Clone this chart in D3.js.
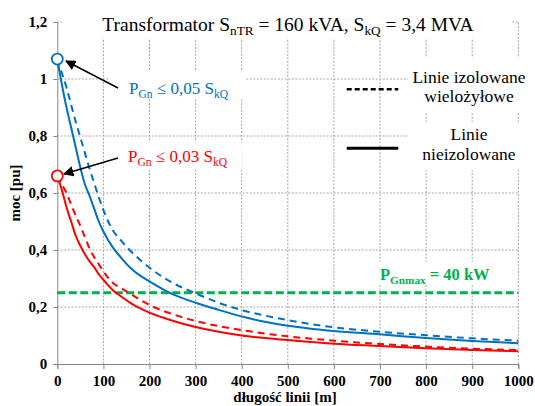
<!DOCTYPE html>
<html>
<head>
<meta charset="utf-8">
<script src="https://cdn.jsdelivr.net/npm/d3@7"></script>
<style>
  body { margin: 0; background: #fff; }
  svg { display: block; }
  svg text { font-family: "Liberation Serif", "DejaVu Serif", "Times New Roman", serif; }
</style>
</head>
<body>
<svg id="chart" width="535" height="406"></svg>
<script>
// line length [m]
const lengths = [0, 10, 20, 30, 40, 50, 60, 70, 80, 90, 100, 120, 140, 160, 180, 200,
                 250, 300, 350, 400, 450, 500, 550, 600, 700, 800, 900, 1000];

// P_Gn <= 0,05 S_kQ
const blueSolid  = [1.07, 0.98, 0.90, 0.83, 0.76, 0.69, 0.63, 0.59, 0.545, 0.50, 0.465, 0.41, 0.37, 0.335, 0.31, 0.29,
                    0.245, 0.215, 0.19, 0.167, 0.148, 0.134, 0.124, 0.116, 0.104, 0.091, 0.081, 0.073];
const blueDashed = [1.07, 1.02, 0.97, 0.91, 0.85, 0.795, 0.74, 0.685, 0.635, 0.585, 0.54, 0.47, 0.43, 0.395, 0.365, 0.338,
                    0.285, 0.248, 0.215, 0.189, 0.17, 0.154, 0.14, 0.129, 0.113, 0.101, 0.09, 0.082];

// P_Gn <= 0,03 S_kQ
const redSolid   = [0.66, 0.61, 0.55, 0.50, 0.45, 0.415, 0.385, 0.36, 0.34, 0.315, 0.295, 0.26, 0.235, 0.213, 0.195, 0.18,
                    0.152, 0.13, 0.113, 0.1, 0.091, 0.084, 0.077, 0.071, 0.063, 0.055, 0.049, 0.045];
const redDashed  = [0.66, 0.63, 0.60, 0.56, 0.52, 0.485, 0.445, 0.405, 0.375, 0.35, 0.325, 0.285, 0.265, 0.245, 0.225, 0.207,
                    0.175, 0.151, 0.133, 0.119, 0.107, 0.097, 0.089, 0.082, 0.07, 0.061, 0.054, 0.049];

const pGnMax = 0.25;

const xTicks = [0, 100, 200, 300, 400, 500, 600, 700, 800, 900, 1000];
const yTicks = [0, 0.2, 0.4, 0.6, 0.8, 1, 1.2];

const svg = d3.select('#chart');

let x = d3.scaleLinear().domain([0, 1000]).range([57.3, 518.3]);
let y = d3.scaleLinear().domain([0, 1.2]).range([364, 22]);

const fmt = d => String(d).replace('.', ',');

// grid
let grid = svg.append('g');
grid.selectAll('.vg').data(xTicks.slice(1)).enter().append('line')
    .attr('x1', d => x(d)).attr('x2', d => x(d))
    .attr('y1', y(0)).attr('y2', y(1.2))
    .attr('stroke', '#a6a6a6').attr('stroke-width', 1).attr('stroke-dasharray', '2,1.5');
grid.selectAll('.hg').data(yTicks.slice(1)).enter().append('line')
    .attr('x1', x(0)).attr('x2', x(1000))
    .attr('y1', d => y(d)).attr('y2', d => y(d))
    .attr('stroke', '#a6a6a6').attr('stroke-width', 1).attr('stroke-dasharray', '2,1.5');

// white boxes behind the texts (they hide the grid)
const boxes = [
    [62, 8, 450, 30],     // title
    [110, 70, 135, 28],   // blue label
    [112, 142, 130, 28],  // red label
    [408, 58, 127, 55],   // legend text 1
    [408, 122, 127, 48],  // legend text 2
    [372, 262, 118, 22]   // green label
];
svg.selectAll('.box').data(boxes).enter().append('rect')
    .attr('x', d => d[0]).attr('y', d => d[1])
    .attr('width', d => d[2]).attr('height', d => d[3])
    .attr('fill', '#fff');

// axes
let xAxis = d3.axisBottom(x).tickValues(xTicks).tickSize(5).tickFormat(d => d);
let yAxis = d3.axisLeft(y).tickValues(yTicks).tickSize(4).tickFormat(fmt);

function styleAxis(g) {
    g.attr('font-family', null).attr('font-size', null);
    g.select('.domain').attr('stroke', '#868686');
    g.selectAll('.tick line').attr('stroke', '#868686');
    g.selectAll('.tick text')
        .attr('fill', '#000')
        .attr('font-weight', 'bold')
        .attr('font-size', 15);
}

svg.append('g')
    .attr('transform', 'translate(0,' + y(0) + ')')
    .call(xAxis)
    .call(styleAxis)
    .call(g => g.selectAll('.tick text').attr('y', 11));

svg.append('g')
    .attr('transform', 'translate(' + x(0) + ',0)')
    .call(yAxis)
    .call(styleAxis)
    .call(g => g.selectAll('.tick text').attr('x', -10));

// axis titles
svg.append('text')
    .attr('x', 285).attr('y', 402)
    .attr('text-anchor', 'middle')
    .attr('font-weight', 'bold').attr('font-size', 15)
    .text('długość linii [m]');

svg.append('text')
    .attr('transform', 'translate(20,193) rotate(-90)')
    .attr('text-anchor', 'middle')
    .attr('font-weight', 'bold').attr('font-size', 15)
    .text('moc [pu]');

// green limit line
svg.append('line')
    .attr('x1', x(0)).attr('x2', x(1000))
    .attr('y1', y(pGnMax)).attr('y2', y(pGnMax))
    .attr('stroke', '#00b050').attr('stroke-width', 3).attr('stroke-dasharray', '8,3.5');

// curves
let line = d3.line()
    .x((d, i) => x(lengths[i]))
    .y(d => y(d))
    .curve(d3.curveMonotoneX);

const series = [
    {values: redDashed,  color: '#ff0000', dash: '7,5'},
    {values: redSolid,   color: '#ff0000', dash: null},
    {values: blueDashed, color: '#0070c0', dash: '7,5'},
    {values: blueSolid,  color: '#0070c0', dash: null}
];

svg.selectAll('.curve').data(series).enter().append('path')
    .attr('class', 'curve')
    .attr('d', d => line(d.values))
    .attr('fill', 'none')
    .attr('stroke', d => d.color)
    .attr('stroke-width', 2)
    .attr('stroke-dasharray', d => d.dash);

// start markers
svg.append('circle').attr('cx', x(0)).attr('cy', y(blueSolid[0])).attr('r', 5.5)
    .attr('fill', '#fff').attr('stroke', '#0070c0').attr('stroke-width', 1.8);
svg.append('circle').attr('cx', x(0)).attr('cy', y(redSolid[0])).attr('r', 5.5)
    .attr('fill', '#fff').attr('stroke', '#ff0000').attr('stroke-width', 1.8);

// arrows
svg.append('defs').append('marker')
    .attr('id', 'arrow')
    .attr('viewBox', '0 0 10 10')
    .attr('refX', 9).attr('refY', 5)
    .attr('markerWidth', 7).attr('markerHeight', 7)
    .attr('orient', 'auto')
    .append('path').attr('d', 'M0,0 L10,5 L0,10 z').attr('fill', '#000');

svg.append('line').attr('x1', 118).attr('y1', 88).attr('x2', 66).attr('y2', 61)
    .attr('stroke', '#000').attr('stroke-width', 1.5).attr('marker-end', 'url(#arrow)');
svg.append('line').attr('x1', 118).attr('y1', 158).attr('x2', 64).attr('y2', 174)
    .attr('stroke', '#000').attr('stroke-width', 1.5).attr('marker-end', 'url(#arrow)');

// text with subscripts
function richText(xp, yp, parts, opts) {
    let t = svg.append('text')
        .attr('x', xp).attr('y', yp)
        .attr('text-anchor', opts.anchor || 'start')
        .attr('fill', opts.color || '#000')
        .attr('font-weight', opts.bold ? 'bold' : 'normal')
        .attr('font-size', opts.size);
    let shift = 0;
    parts.forEach(p => {
        if (p.sub) {
            t.append('tspan').attr('dy', opts.size * 0.22)
                .attr('font-size', opts.size * 0.68).text(p.sub);
            shift = opts.size * 0.22;
        } else {
            t.append('tspan').attr('dy', -shift).text(p.t);
            shift = 0;
        }
    });
    return t;
}

richText(288, 31, [
    {t: 'Transformator S'}, {sub: 'nTR'}, {t: ' = 160 kVA, S'}, {sub: 'kQ'}, {t: ' = 3,4 MVA'}
], {size: 19.5, anchor: 'middle'});

richText(129, 94, [
    {t: 'P'}, {sub: 'Gn'}, {t: ' \u2264 0,05 S'}, {sub: 'kQ'}
], {size: 17, color: '#0070c0'});

richText(128, 162, [
    {t: 'P'}, {sub: 'Gn'}, {t: ' \u2264 0,03 S'}, {sub: 'kQ'}
], {size: 17, color: '#ff0000'});

richText(380, 280, [
    {t: 'P'}, {sub: 'Gnmax'}, {t: ' = 40 kW'}
], {size: 16.5, color: '#00b050', bold: true});

// legend
svg.append('line').attr('x1', 346.7).attr('x2', 398.3).attr('y1', 89.3).attr('y2', 89.3)
    .attr('stroke', '#000').attr('stroke-width', 2.5).attr('stroke-dasharray', '5,3');
svg.append('line').attr('x1', 346.7).attr('x2', 398.3).attr('y1', 148.3).attr('y2', 148.3)
    .attr('stroke', '#000').attr('stroke-width', 3);

const legendLines = [
    ['Linie izolowane', 83],
    ['wielożyłowe', 102],
    ['Linie', 140],
    ['nieizolowane', 160]
];
svg.selectAll('.leg').data(legendLines).enter().append('text')
    .attr('x', 469).attr('y', d => d[1])
    .attr('text-anchor', 'middle')
    .attr('font-size', 17.5)
    .text(d => d[0]);
</script>
</body>
</html>
